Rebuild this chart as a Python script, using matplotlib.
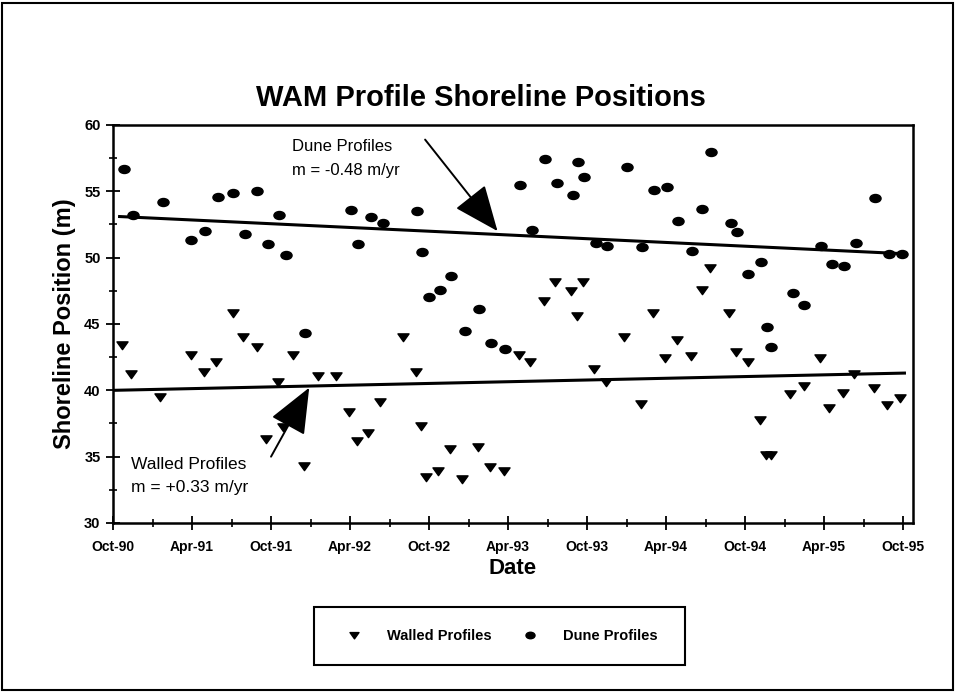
import matplotlib
matplotlib.use('Agg')
import matplotlib.pyplot as plt
from matplotlib.path import Path
from matplotlib.patches import Rectangle
from matplotlib.lines import Line2D
import numpy as np

plt.rcParams['font.family'] = ['Liberation Sans', 'DejaVu Sans']

# ---- data (x in months after Oct-1990) ----
walled_months = [0.7, 1.4, 3.6, 5.9, 6.9, 7.8, 9.1, 9.9, 10.9, 11.6, 12.5, 12.9, 13.7, 14.5,
                 15.6, 16.9, 17.9, 18.5, 19.4, 20.3, 22.0, 23.0, 23.4, 23.8, 24.7, 25.6, 26.5,
                 27.7, 28.6, 29.7, 30.8, 31.7, 32.7, 33.6, 34.8, 35.2, 35.7, 36.5, 37.4, 38.8,
                 40.1, 41.0, 41.9, 42.8, 43.9, 44.7, 45.3, 46.8, 47.3, 48.2, 49.1, 49.6, 50.0,
                 51.4, 52.5, 53.7, 54.4, 55.4, 56.3, 57.8, 58.8, 59.8]
walled_pos = [43.4, 41.2, 39.5, 42.7, 41.4, 42.1, 45.8, 44.0, 43.3, 36.3, 40.6, 37.2, 42.7, 34.3,
              41.1, 41.1, 38.4, 36.2, 36.8, 39.1, 44.0, 41.4, 37.3, 33.5, 33.9, 35.6, 33.3,
              35.7, 34.2, 33.9, 42.7, 42.1, 46.7, 48.2, 47.5, 45.6, 48.2, 41.6, 40.6, 44.0,
              39.0, 45.8, 42.4, 43.8, 42.6, 47.6, 49.2, 45.8, 42.9, 42.1, 37.8, 35.1, 35.1,
              39.7, 40.3, 42.4, 38.7, 39.8, 41.2, 40.2, 38.9, 39.4]

dune_months = [0.8, 1.5, 3.8, 5.9, 7.0, 8.0, 9.1, 10.0, 10.9, 11.8, 12.6, 13.1, 14.6, 18.1,
               18.6, 19.6, 20.5, 23.1, 23.5, 24.0, 24.8, 25.7, 26.7, 27.8, 28.7, 29.8, 30.9,
               31.8, 32.8, 33.7, 34.9, 35.3, 35.8, 36.7, 37.5, 39.0, 40.2, 41.1, 42.1, 42.9,
               44.0, 44.7, 45.4, 46.9, 47.4, 48.2, 49.2, 49.7, 50.0, 51.6, 52.5, 53.8, 54.6,
               55.5, 56.4, 57.9, 58.9, 59.9]
dune_pos = [56.7, 53.2, 54.2, 51.3, 52.0, 54.6, 54.9, 51.8, 55.0, 51.0, 53.2, 50.2, 44.3, 53.6,
            51.0, 53.1, 52.6, 53.5, 50.4, 47.0, 47.6, 48.6, 44.5, 46.1, 43.6, 43.1, 55.5,
            52.1, 57.4, 55.6, 54.7, 57.2, 56.1, 51.1, 50.9, 56.8, 50.8, 55.1, 55.3, 52.8,
            50.5, 53.7, 58.0, 52.6, 51.9, 48.8, 49.7, 44.8, 43.3, 47.3, 46.4, 50.9, 49.5,
            49.4, 51.1, 54.5, 50.3, 50.3]

dune_trend_months = [0.5, 60.0]
dune_trend_pos = [53.1, 50.3]
walled_trend_months = [0.0, 60.1]
walled_trend_pos = [40.0, 41.3]

tick_months = [0, 6, 12, 18, 24, 30, 36, 42, 48, 54, 60]
tick_labels = ['Oct-90', 'Apr-91', 'Oct-91', 'Apr-92', 'Oct-92', 'Apr-93',
               'Oct-93', 'Apr-94', 'Oct-94', 'Apr-95', 'Oct-95']

# ---- marker shapes ----
ell = Path.unit_circle()
ellipse_marker = Path(ell.vertices * np.array([1.0, 0.72]), ell.codes)
tri_marker = Path([(-1.0, 0.65), (1.0, 0.65), (0.0, -0.75), (-1.0, 0.65)],
                  [Path.MOVETO, Path.LINETO, Path.LINETO, Path.CLOSEPOLY])

fig = plt.figure(figsize=(9.56, 6.96), dpi=100)
ax = fig.add_axes([113/956, 1-523/696, 800/956, 398/696])

ax.plot(walled_months, walled_pos, linestyle='none', marker=tri_marker, ms=8,
        color='black', label='Walled Profiles')
ax.plot(dune_months, dune_pos, linestyle='none', marker=ellipse_marker, ms=8,
        color='black', label='Dune Profiles')
ax.plot(dune_trend_months, dune_trend_pos, color='black', lw=2.2)
ax.plot(walled_trend_months, walled_trend_pos, color='black', lw=2.2)

ax.set_xlim(0, 60.75)
ax.set_ylim(30, 60)
ax.set_xticks(tick_months)
ax.set_xticklabels(tick_labels, fontweight='bold', fontsize=10)
ax.set_xticks(np.arange(3, 61, 6), minor=True)
ax.set_yticks([30, 35, 40, 45, 50, 55, 60])
ax.set_yticklabels(['30', '35', '40', '45', '50', '55', '60'], fontweight='bold', fontsize=10.5)
ax.set_yticks(np.arange(32.5, 60, 5), minor=True)
ax.tick_params(which='major', direction='inout', length=10, width=1.3, color='black')
ax.tick_params(which='minor', direction='inout', length=6, width=1.2, color='black')
ax.tick_params(axis='x', which='major', pad=7)
ax.tick_params(axis='y', which='major', pad=4)
for s in ax.spines.values():
    s.set_linewidth(1.8)

ax.set_xlabel('Date', fontweight='bold', fontsize=16, labelpad=3)
ax.set_ylabel('Shoreline Position (m)', fontweight='bold', fontsize=17, labelpad=6)

# annotations
ax.text(13.6, 58.4, 'Dune Profiles', fontsize=12, ha='left', va='center')
ax.text(13.6, 56.6, 'm = -0.48 m/yr', fontsize=12, ha='left', va='center')
ax.text(1.4, 34.4, 'Walled Profiles', fontsize=12.5, ha='left', va='center')
ax.text(1.4, 32.7, 'm = +0.33 m/yr', fontsize=12.5, ha='left', va='center')
ax.annotate('', xy=(29.2, 52.0), xytext=(23.7, 58.9),
            arrowprops=dict(arrowstyle='-|>,head_length=1.2,head_width=0.5',
                            mutation_scale=24, lw=1.4, color='black',
                            shrinkA=0, shrinkB=0))
ax.annotate('', xy=(14.9, 40.2), xytext=(12.0, 35.0),
            arrowprops=dict(arrowstyle='-|>,head_length=1.2,head_width=0.5',
                            mutation_scale=24, lw=1.4, color='black',
                            shrinkA=0, shrinkB=0))

fig.text(0.503, 1-98/696, 'WAM Profile Shoreline Positions', ha='center', va='center',
         fontsize=21, fontweight='bold')

# legend with manual frame
fig.patches.append(Rectangle((314/956, 1-665/696), 371/956, 58/696, transform=fig.transFigure,
                             fill=False, edgecolor='black', lw=1.5))
handles = [Line2D([], [], linestyle='none', marker=tri_marker, ms=6.5, color='black'),
           Line2D([], [], linestyle='none', marker=ellipse_marker, ms=6.5, color='black')]
leg = fig.legend(handles, ['Walled Profiles', 'Dune Profiles'], loc='center',
                 bbox_to_anchor=(502/956, 1-636/696), ncol=2, frameon=False,
                 prop={'weight': 'bold', 'size': 10.5}, handlelength=1.0,
                 handletextpad=1.8, columnspacing=2.1)

# outer border
fig.patches.append(Rectangle((2/956, 1-690/696), 951/956, 687/696, transform=fig.transFigure,
                             fill=False, edgecolor='black', lw=1.5))

fig.savefig('out.png', dpi=100)
